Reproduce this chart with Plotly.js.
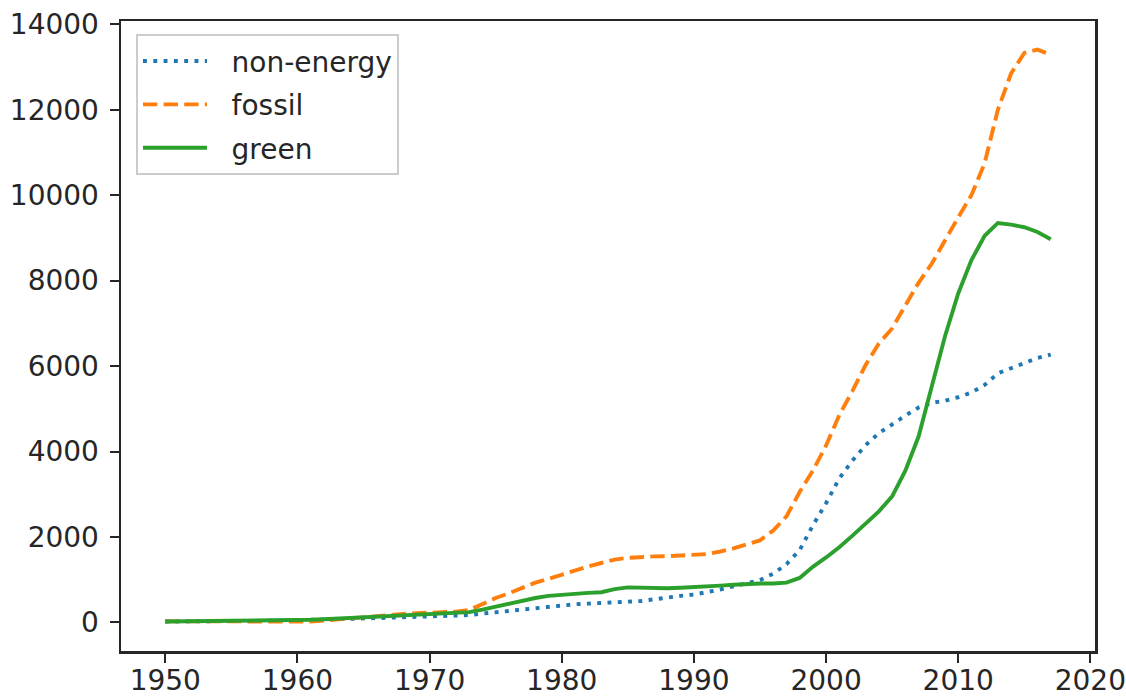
<!DOCTYPE html>
<html>
<head>
<meta charset="utf-8">
<script src="https://cdn.plot.ly/plotly-3.0.1.min.js"></script>
<style>html,body{margin:0;padding:0;background:#fff;}#chart{width:1126px;height:698px;}</style>
</head>
<body>
<div id="chart"></div>
<script>
const years = [];
for (let y = 1950; y <= 2017; y++) years.push(y);

const nonEnergy = [20,20,20,22,24,26,30,34,38,43,
  48,55,62,70,78,90,100,110,120,130,
  140,140,145,170,205,235,275,305,335,370,
  405,425,440,455,480,490,500,540,585,620,
  650,705,770,845,925,990,1140,1360,1690,2270,
  2790,3370,3790,4150,4430,4640,4840,5030,5140,5190,
  5270,5380,5560,5830,5960,6070,6190,6270];

const fossil = [25,25,25,25,25,25,25,20,15,10,
  10,20,40,70,100,130,160,185,200,215,
  225,230,250,290,430,570,680,810,930,1020,
  1120,1210,1310,1390,1470,1510,1535,1545,1550,1560,
  1570,1600,1660,1730,1830,1920,2150,2480,3050,3550,
  4140,4850,5420,6030,6530,6880,7420,7950,8400,8950,
  9480,10000,10750,12000,12850,13330,13408,13290];

const green = [20,22,24,26,28,30,34,38,42,46,
  50,60,75,90,100,115,130,145,160,175,
  190,205,215,240,300,370,450,520,570,620,
  650,670,690,705,780,820,810,800,800,810,
  820,840,860,880,900,910,910,930,1040,1300,
  1520,1760,2030,2330,2600,2950,3550,4350,5500,6700,
  7700,8480,9050,9350,9310,9250,9140,8970];

const seriesNames = ['non-energy', 'fossil', 'green'];
const xTicks = [1950, 1960, 1970, 1980, 1990, 2000, 2010, 2020];
const yTicks = [0, 2000, 4000, 6000, 8000, 10000, 12000, 14000];

const FONT = 'DejaVu Sans, Liberation Sans, sans-serif';
const GAP = '\u2002\u2009';
const traces = [
  {x: years, y: nonEnergy, name: GAP + seriesNames[0], mode: 'lines', legendgroup: 'a',
   line: {color: '#1f77b4', width: 3.9, dash: '3.9px,6.4px'}},
  {x: years, y: fossil, name: GAP + seriesNames[1], mode: 'lines', legendgroup: 'b',
   line: {color: '#ff7f0e', width: 3.9, dash: '14.4px,6.2px'}},
  {x: years, y: green, name: GAP + seriesNames[2], mode: 'lines', legendgroup: 'c',
   line: {color: '#2ca02c', width: 3.9}}
];

const axisCommon = {
  showgrid: false, zeroline: false, showline: true, mirror: true,
  linecolor: '#262626', linewidth: 2.5,
  ticks: 'outside', ticklen: 9, tickwidth: 2, tickcolor: '#262626',
  tickfont: {family: FONT, size: 28, color: '#262626'}
};

const layout = {
  width: 1126, height: 698,
  margin: {l: 121, r: 31, t: 21, b: 47, pad: 0},
  paper_bgcolor: '#ffffff', plot_bgcolor: '#ffffff',
  font: {family: FONT, size: 28, color: '#262626'},
  showlegend: true,
  legend: {
    x: 0.0154, y: 0.979, xanchor: 'left', yanchor: 'top',
    bgcolor: 'rgba(255,255,255,0.8)', bordercolor: '#cccccc', borderwidth: 2,
    font: {family: FONT, size: 28, color: '#262626'},
    traceorder: 'grouped', tracegroupgap: 4, itemwidth: 64
  },
  xaxis: Object.assign({}, axisCommon, {
    range: [1946.65, 2020.35], tickmode: 'array', tickvals: xTicks,
    ticktext: xTicks.map(String), ticklabelstandoff: -6,
    ticklabeloverflow: 'allow'
  }),
  yaxis: Object.assign({}, axisCommon, {
    range: [-670, 14078], tickmode: 'array', tickvals: yTicks,
    ticktext: yTicks.map(String), ticklabelstandoff: 5,
    ticklabeloverflow: 'allow'
  })
};

Plotly.newPlot('chart', traces, layout, {staticPlot: true, displayModeBar: false});
</script>
</body>
</html>
